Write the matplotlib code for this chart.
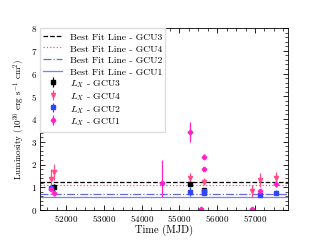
import numpy as np
import matplotlib
matplotlib.use("Agg")
from matplotlib import pyplot as plt
from matplotlib.ticker import MultipleLocator

plt.rcParams['font.family'] = 'serif'
plt.rcParams['font.serif'] = ['cmr10', 'DejaVu Serif']
plt.rcParams['mathtext.fontset'] = 'cm'
plt.rcParams['axes.formatter.use_mathtext'] = True

# best fit (constant) luminosity levels
fit_gcu3 = 1.22
fit_gcu4 = 1.10
fit_gcu2 = 0.70
fit_gcu1 = 0.56

# GCU3
t3 = [51682, 55290, 55640]
l3 = [1.00, 1.14, 0.88]
e3 = [0.15, 0.08, 0.08]

# GCU4
t4 = [51594, 51682, 55290, 55640, 56935, 57140, 57563]
l4 = [1.36, 1.68, 1.39, 1.24, 0.84, 1.32, 1.39]
e4 = [0.45, 0.35, 0.25, 0.15, 0.27, 0.32, 0.27]

# GCU2
t2 = [51594, 55290, 55640, 55640, 57140, 57563]
l2 = [0.95, 0.80, 0.85, 0.75, 0.66, 0.76]
e2 = [0.12, 0.20, 0.08, 0.08, 0.10, 0.12]

# GCU1
t1 = [51594, 51682, 54550, 55290, 55568, 55640, 55640, 56935, 57140, 57563]
l1 = [0.92, 0.73, 1.20, 3.44, 0.05, 2.34, 1.80, 0.05, 0.84, 1.13]
e1_lo = [0.10, 0.10, 0.62, 0.44, 0.03, 0.10, 0.10, 0.03, 0.10, 0.10]
e1_hi = [0.10, 0.10, 1.00, 0.44, 0.03, 0.10, 0.10, 0.03, 0.10, 0.10]

c3 = 'black'
c4 = '#ff4d88'
c2 = '#3344ff'
c1 = '#ff22cc'

fig = plt.figure(figsize=(3.2, 2.4), dpi=100)
ax = fig.add_axes([40/320, 30/240, 248/320, 182/240])

ax.axhline(fit_gcu3, color=c3, ls='--', lw=0.9, label='Best Fit Line - GCU3')
ax.axhline(fit_gcu4, color=c4, ls=':', lw=0.9, label='Best Fit Line - GCU4')
ax.axhline(fit_gcu2, color='#6b6bd6', ls='-.', lw=0.9, label='Best Fit Line - GCU2')
ax.axhline(fit_gcu1, color='#6f86ff', ls='-', lw=0.9, label='Best Fit Line - GCU1')

ax.errorbar(t3, l3, yerr=e3, fmt='s', ms=2.5, color=c3, elinewidth=0.9,
            label='$L_X$ - GCU3')
ax.errorbar(t4, l4, yerr=e4, fmt='v', ms=3, color=c4, elinewidth=0.9,
            label='$L_X$ - GCU4')
ax.errorbar(t2, l2, yerr=e2, fmt='s', ms=2.5, color=c2, elinewidth=0.9,
            label='$L_X$ - GCU2')
ax.errorbar(t1, l1, yerr=[e1_lo, e1_hi], fmt='P', ms=3, color=c1,
            elinewidth=0.9, label='$L_X$ - GCU1')

ax.set_xlim(51310, 57875)
ax.set_ylim(0, 8)
ax.xaxis.set_major_locator(MultipleLocator(1000))
ax.xaxis.set_minor_locator(MultipleLocator(250))
ax.yaxis.set_major_locator(MultipleLocator(1))
ax.yaxis.set_minor_locator(MultipleLocator(0.2))
ax.tick_params(which='both', direction='in', top=True, right=True,
               labelsize=6.5, pad=2)
ax.tick_params(which='major', length=3.5, width=0.6)
ax.tick_params(which='minor', length=2, width=0.5)
for s in ax.spines.values():
    s.set_linewidth(0.6)

ax.set_xlabel('Time (MJD)', fontsize=7.5, labelpad=1)
ax.set_ylabel('Luminosity ($10^{36}$ erg s$^{-1}$ cm$^2$)', fontsize=6.5,
              labelpad=3)

ax.legend(loc='upper left', fontsize=7, framealpha=1, edgecolor='#dddddd',
          fancybox=False, borderpad=0.35, labelspacing=0.0, handleheight=1.45,
          handlelength=1.9, handletextpad=0.8, borderaxespad=0)

fig.savefig('out.png', dpi=100)
